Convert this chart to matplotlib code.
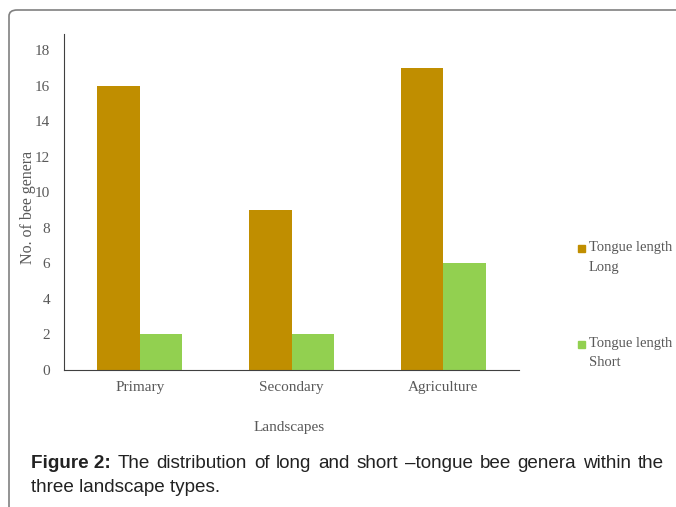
import numpy as np
import matplotlib.pyplot as plt
from matplotlib.patches import FancyBboxPatch

# Bee genera counts per landscape, split by tongue length
landscapes = ['Primary', 'Secondary', 'Agriculture']
long_tongue = [16, 9, 17]
short_tongue = [2, 2, 6]
series_labels = [('Tongue length', 'Long'), ('Tongue length', 'Short')]
colors = ['#C08E00', '#92D050']

W, H = 676, 507
fig = plt.figure(figsize=(W / 100, H / 100), dpi=100)

serif = ['Liberation Serif', 'DejaVu Serif']
grey = '#595959'

# panel border with rounded corner, running off the right and bottom edges
border = FancyBboxPatch((9 / W, -0.05), 1.1, 1.05 - 10 / H,
                        boxstyle='round,pad=0,rounding_size=0.012',
                        transform=fig.transFigure, fill=False,
                        edgecolor='#808080', linewidth=1.2)
fig.patches.append(border)

ax = fig.add_axes([64 / W, 1 - 370 / H, 455 / W, 336 / H])
x = np.arange(len(landscapes))
w = 0.28
ax.bar(x - w / 2, long_tongue, w, color=colors[0])
ax.bar(x + w / 2, short_tongue, w, color=colors[1])

ax.set_xlim(-0.5, 2.5)
ax.set_ylim(0, 18.9)
ax.set_yticks(range(0, 19, 2))
ax.set_xticks(x)
ax.set_xticklabels(landscapes)
for lab in ax.get_xticklabels() + ax.get_yticklabels():
    lab.set_family(serif)
    lab.set_fontsize(11)
    lab.set_color(grey)
ax.tick_params(axis='both', length=0)
ax.tick_params(axis='x', pad=8)
ax.tick_params(axis='y', pad=10)
for s in ['top', 'right']:
    ax.spines[s].set_visible(False)
ax.spines['left'].set_color('#404040')
ax.spines['bottom'].set_color('#404040')

fig.text(28 / W, 1 - 207 / H, 'No. of bee genera', rotation=90,
         ha='center', va='center', family=serif, fontsize=11.5, color=grey)
fig.text(289 / W, 1 - 427 / H, 'Landscapes', ha='center', va='center',
         family=serif, fontsize=11, color=grey)

# legend entries
for i, ((l1, l2), c) in enumerate(zip(series_labels, colors)):
    y = 248 + i * 96
    fig.patches.append(plt.Rectangle((578 / W, 1 - (y + 3.5) / H), 7 / W, 7 / H,
                                     transform=fig.transFigure, color=c))
    fig.text(589 / W, 1 - y / H, l1, ha='left', va='center',
             family=serif, fontsize=10.5, color=grey)
    fig.text(589 / W, 1 - (y + 19) / H, l2, ha='left', va='center',
             family=serif, fontsize=10.5, color=grey)

# caption, first line justified to the right margin
sans = ['Liberation Sans', 'DejaVu Sans']
cap_color = '#222222'
cap_size = 13.6
left, right = 31, 664
line1 = 'The distribution of long and short \u2013tongue bee genera within the'.split()
renderer = fig.canvas.get_renderer()
y1 = 1 - 463 / H
words = [fig.text(0, y1, 'Figure 2:', ha='left', va='center', family=sans,
                  fontsize=cap_size, weight='bold', color=cap_color)]
words += [fig.text(0, y1, wd, ha='left', va='center', family=sans,
                   fontsize=cap_size, color=cap_color) for wd in line1]
widths = [t.get_window_extent(renderer).width for t in words]
gap = (right - left - sum(widths)) / (len(words) - 1)
pos = left
for t, wd in zip(words, widths):
    t.set_x(pos / W)
    pos += wd + gap
fig.text(left / W, 1 - 488 / H, 'three landscape types.', ha='left', va='center',
         family=sans, fontsize=cap_size, color=cap_color)

fig.savefig('out.png', dpi=100)
